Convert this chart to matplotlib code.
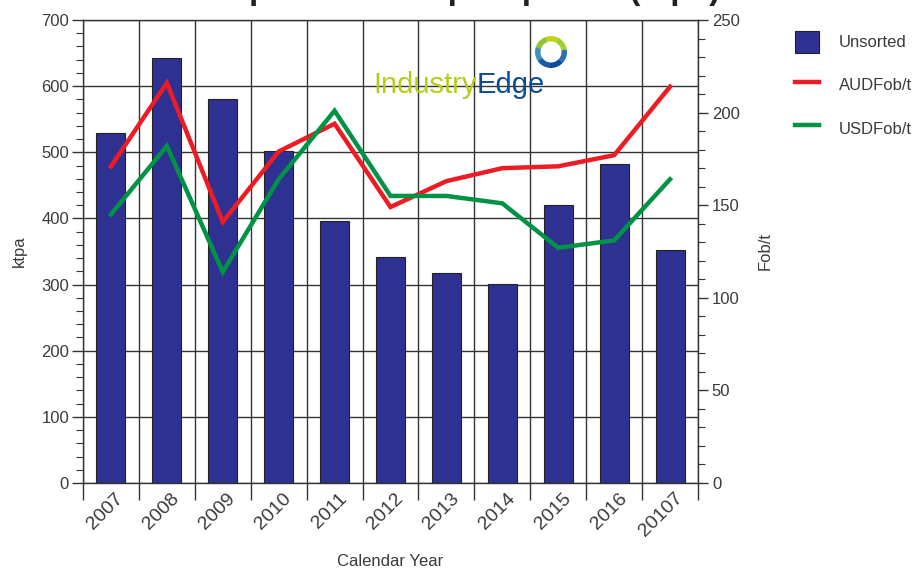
import matplotlib
matplotlib.use("Agg")
import matplotlib.pyplot as plt
import matplotlib.transforms as mtransforms
from matplotlib.patches import Wedge, Patch
from matplotlib.lines import Line2D
import numpy as np

years = ["2007", "2008", "2009", "2010", "2011", "2012", "2013", "2014", "2015", "2016", "20107"]
unsorted_ktpa = [529, 643, 580, 502, 396, 342, 318, 301, 420, 483, 353]
aud_fob = [171, 216, 141, 179, 194, 149, 163, 170, 171, 177, 214]
usd_fob = [145, 182, 114, 164, 201, 155, 155, 151, 127, 131, 164]

BAR = "#2e3192"
RED = "#ed1c24"
GREEN = "#009245"
TXT = "#3a3a3a"
GRID = "#333333"

plt.rcParams['font.family'] = ['Liberation Sans', 'DejaVu Sans']

fig = plt.figure(figsize=(9.24, 5.72), dpi=100)
ax = fig.add_axes([83/924, 1-483/572, (698-83)/924, (483-20)/572])
x = np.arange(len(years))
ax.bar(x, unsorted_ktpa, width=0.52, color=BAR, edgecolor="#222222", linewidth=0.8, zorder=2)
ax.set_xlim(-0.5, len(years)-0.5)
ax.set_ylim(0, 700)
ax.set_yticks(np.arange(0, 701, 100))
ax.set_yticks(np.arange(0, 701, 20), minor=True)
ax.set_xticks(x)
ax.set_xticks(np.arange(-0.5, len(years), 1.0), minor=True)
ax.tick_params(axis='x', which='major', length=0, pad=2)
ax.tick_params(axis='x', which='minor', length=12, width=1, color=GRID, direction='out')
ax.tick_params(axis='y', which='major', length=8, width=1, color=GRID, labelsize=12, labelcolor=TXT, pad=2)
ax.tick_params(axis='y', which='minor', length=5, width=0.8, color=GRID)
ax.yaxis.grid(True, which='major', color=GRID, linewidth=1, zorder=0)
ax.xaxis.grid(True, which='minor', color=GRID, linewidth=1, zorder=0)
ax.set_axisbelow(True)
for s in ax.spines.values():
    s.set_color(GRID)
    s.set_linewidth(1)
ax.set_ylabel("ktpa", fontsize=12, color=TXT, labelpad=10)
ax.set_xlabel("Calendar Year", fontsize=12, color=TXT, labelpad=10)

ax2 = ax.twinx()
ax2.plot(x, aud_fob, color=RED, linewidth=3.2, solid_joinstyle='miter', zorder=3)
ax2.plot(x, usd_fob, color=GREEN, linewidth=3.2, solid_joinstyle='miter', zorder=3)
ax2.set_ylim(0, 250)
ax2.set_yticks(np.arange(0, 251, 50))
ax2.set_yticks(np.arange(0, 251, 10), minor=True)
ax2.tick_params(axis='y', which='major', length=7, width=1, color=GRID, labelsize=12, labelcolor=TXT, pad=3)
ax2.tick_params(axis='y', which='minor', length=5, width=0.8, color=GRID)
for s in ax2.spines.values():
    s.set_visible(False)
ax2.set_ylabel("Fob/t", fontsize=12, color=TXT, labelpad=13)

# rotated x tick labels, shifted after all tick_params calls
ax.set_xticklabels(years, rotation=45, ha='right', va='center', rotation_mode='anchor',
                   fontsize=14, color=TXT)
offset = mtransforms.ScaledTranslation(10/100, -10/100, fig.dpi_scale_trans)
for lab in ax.xaxis.get_majorticklabels():
    lab.set_transform(lab.get_transform() + offset)

# legend
handles = [Patch(facecolor=BAR, edgecolor="#222222", linewidth=0.8),
           Line2D([], [], color=RED, linewidth=3.2),
           Line2D([], [], color=GREEN, linewidth=3.2)]
fig.legend(handles, ["Unsorted", "AUDFob/t", "USDFob/t"], loc='upper left',
           bbox_to_anchor=(788/924, 1-24/572), frameon=False, fontsize=12,
           handlelength=1.45, handleheight=1.65, labelspacing=1.28, handletextpad=1.2,
           labelcolor=TXT, borderaxespad=0)

# logo
fig.text(373/924, 1-93/572, "Industry", fontsize=21, color="#b5cc18", ha='left', va='baseline')
t1 = fig.texts[-1]
fig.canvas.draw()
bb = t1.get_window_extent()
fig.text(bb.x1/924, 1-93/572, "Edge", fontsize=21, color="#0b4a96", ha='left', va='baseline')
cx, cy, r = 551/100, (572-52)/100, 0.16
cols = ["#c2d41a", "#8cc43a", "#3f8fc0", "#1a5aa8", "#0b4a96", "#2d6fb3", "#9fcf2e"]
angs = np.linspace(60, 420, len(cols)+1)
for i, c in enumerate(cols):
    fig.add_artist(Wedge((cx, cy), r, angs[i], angs[i+1]+1, width=0.055, color=c,
                         transform=fig.dpi_scale_trans, linewidth=0))

# clipped title (only descenders visible in reference)
fig.text(0.42, 1+1/572, "Unsorted exports and export prices (ktpa)", fontsize=24,
         fontweight='bold', color="#222222", ha='center', va='baseline')

fig.savefig("out.png", dpi=100)
